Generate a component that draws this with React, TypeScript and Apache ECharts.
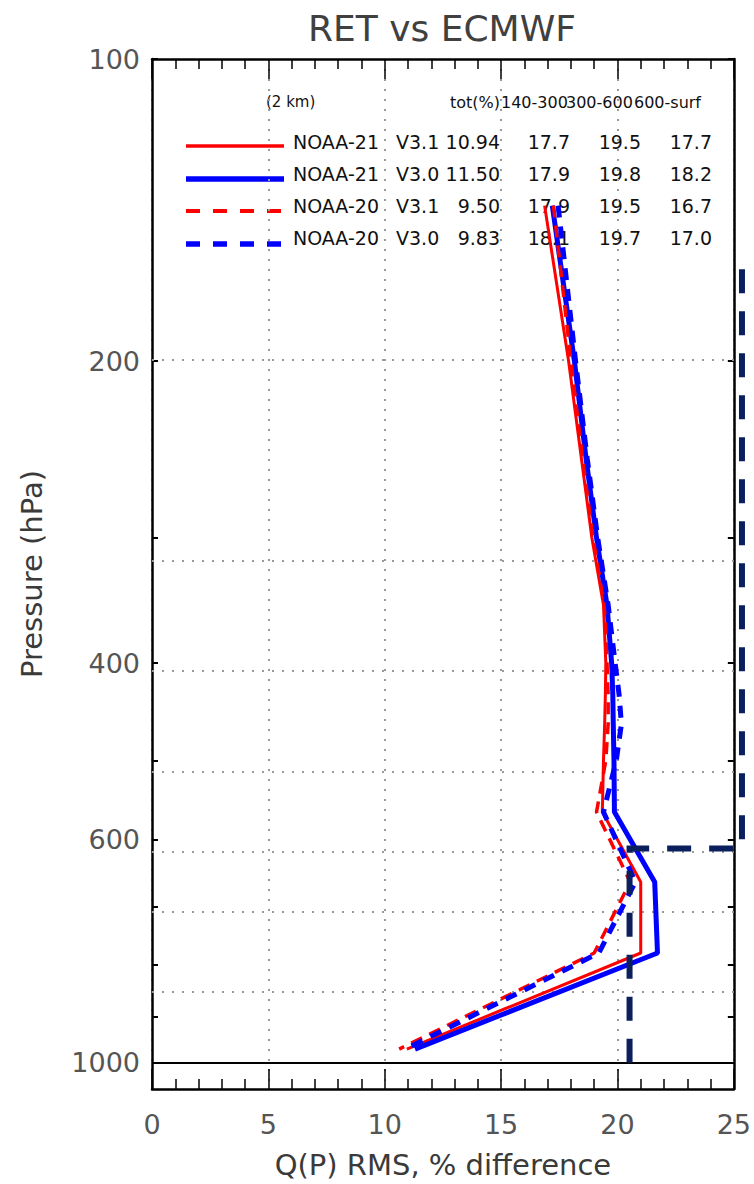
import React, { useEffect, useRef } from "react";
import * as echarts from "echarts";

// Pressure levels (hPa) shared by the four profiles
const P_LEVELS = [140, 200, 250, 300, 350, 400, 430, 460, 500, 563, 661, 778, 970];

// Q(P) RMS % difference per level
const N21_V31 = [16.87, 17.9, 18.45, 18.9, 19.4, 19.5, 19.48, 19.45, 19.4, 19.35, 21.0, 21.0, 10.95];
const N21_V30 = [17.2, 18.15, 18.65, 19.1, 19.55, 19.75, 19.8, 19.82, 19.85, 19.87, 21.6, 21.72, 11.3];
const N20_V31 = [17.25, 18.0, 18.5, 18.95, 19.45, 19.55, 19.6, 19.6, 19.5, 19.1, 20.55, 19.0, 10.62];
const N20_V30 = [17.45, 18.2, 18.7, 19.15, 19.6, 19.9, 20.07, 20.17, 19.95, 19.4, 20.77, 19.2, 10.88];

// Highlight bracket (x, pressure)
const BRACKET_X = [25.35, 25.35, 20.52, 20.52];
const BRACKET_P = [162, 612, 612, 1011];

// Axis ticks / labels
const X_MIN = 0;
const X_MAX = 25;
const X_INTERVAL = 5;
const P_TOP = 100;
const P_BOTTOM = 1063;
const P_TICKS = [100, 200, 300, 400, 500, 600, 700, 800, 900, 1000];
const P_LABELS = [100, 200, 400, 600, 1000];
const P_GRID = [200, 314, 407, 516, 618, 709, 854];
const P_SURFACE_LINE = 1000;

// Legend table
const TABLE_HEADERS = ["(2 km)", "tot(%)", "140-300", "300-600", "600-surf"];
const SAT_NAMES = ["NOAA-21", "NOAA-21", "NOAA-20", "NOAA-20"];
const VERSIONS = ["V3.1", "V3.0", "V3.1", "V3.0"];
const TOT_PCT = ["10.94", "11.50", "9.50", "9.83"];
const R_140_300 = ["17.7", "17.9", "17.9", "18.1"];
const R_300_600 = ["19.5", "19.8", "19.5", "19.7"];
const R_600_SURF = ["17.7", "18.2", "16.7", "17.0"];

const RED = "#ff0000";
const BLUE = "#0000ff";
const NAVY = "#0b1f5c";
const FONT = "'DejaVu Sans', sans-serif";

const lg = (p: number) => Math.log10(p);
const toPts = (xs: number[]) => xs.map((x, i) => [x, lg(P_LEVELS[i])]);

export default function App() {
  const ref = useRef<HTMLDivElement>(null);

  useEffect(() => {
    if (!ref.current) return;
    const chart = echarts.init(ref.current, null, { renderer: "svg" });

    const seriesStyles = [
      { data: N21_V31, color: RED, width: 3, type: "solid" as any },
      { data: N21_V30, color: BLUE, width: 5, type: "solid" as any },
      { data: N20_V31, color: RED, width: 3.5, type: [12, 8] as any },
      { data: N20_V30, color: BLUE, width: 5, type: [12, 9] as any },
    ];

    const legendLineY = [146, 179, 211, 244];
    const rowY = [142, 174, 206, 238];
    const textStyle = (text: string, x: number, y: number, align: string, size: number) => ({
      type: "text",
      x,
      y,
      silent: true,
      style: {
        text,
        fontSize: size,
        fontFamily: FONT,
        fill: "#111",
        align,
        verticalAlign: "middle",
      },
    });

    const graphics: any[] = [
      {
        type: "text",
        x: 442,
        y: 28,
        style: {
          text: "RET vs ECMWF",
          fontSize: 36,
          fontFamily: FONT,
          fill: "#404040",
          align: "center",
          verticalAlign: "middle",
        },
      },
      textStyle(TABLE_HEADERS[0], 266, 102, "left", 15),
      textStyle(TABLE_HEADERS[1], 500, 102, "right", 16),
      textStyle(TABLE_HEADERS[2], 501, 102, "left", 16),
      textStyle(TABLE_HEADERS[3], 566, 102, "left", 16),
      textStyle(TABLE_HEADERS[4], 634, 102, "left", 16),
    ];
    seriesStyles.forEach((s, i) => {
      graphics.push({
        type: "line",
        silent: true,
        shape: { x1: 186, y1: legendLineY[i], x2: 284, y2: legendLineY[i] },
        style: {
          stroke: s.color,
          lineWidth: s.width + 0.5,
          lineDash: s.type === "solid" ? null : [14, 13],
        },
      });
      graphics.push(textStyle(SAT_NAMES[i], 293, rowY[i], "left", 19));
      graphics.push(textStyle(VERSIONS[i], 396, rowY[i], "left", 19));
      graphics.push(textStyle(TOT_PCT[i], 500, rowY[i], "right", 19));
      graphics.push(textStyle(R_140_300[i], 570, rowY[i], "right", 19));
      graphics.push(textStyle(R_300_600[i], 641, rowY[i], "right", 19));
      graphics.push(textStyle(R_600_SURF[i], 712, rowY[i], "right", 19));
    });

    const gridLineStyle = { type: [2, 8], color: "#9a9a9a", width: 2 };

    const xAxisCommon = {
      type: "value",
      min: X_MIN,
      max: X_MAX,
      interval: X_INTERVAL,
      axisLine: { show: true, onZero: false, lineStyle: { color: "#000", width: 2.5 } },
      axisTick: { show: true, inside: true, length: 20, lineStyle: { color: "#000", width: 1.5 } },
      minorTick: { show: true, splitNumber: 5, length: 10, lineStyle: { color: "#000", width: 1.5 } },
    };

    const yAxisCommon = {
      type: "value",
      min: lg(P_TOP),
      max: lg(P_BOTTOM),
      inverse: true,
      axisLine: { show: true, onZero: false, lineStyle: { color: "#000", width: 2.5 } },
      axisTick: {
        show: true,
        inside: true,
        length: 6,
        customValues: P_TICKS.map(lg),
        lineStyle: { color: "#000", width: 2 },
      },
      splitLine: { show: false },
    };

    chart.setOption({
      animation: false,
      backgroundColor: "#fff",
      graphic: graphics,
      grid: { left: 152, right: 17, top: 59, bottom: 89, containLabel: false },
      xAxis: [
        {
          ...xAxisCommon,
          position: "bottom",
          name: "Q(P) RMS, % difference",
          nameLocation: "middle",
          nameGap: 61,
          nameTextStyle: { fontSize: 29, fontFamily: FONT, color: "#3a3a3a" },
          axisLabel: { fontSize: 27, fontFamily: FONT, color: "#555", margin: 22 },
          splitLine: { show: true, lineStyle: gridLineStyle },
        },
        {
          ...xAxisCommon,
          position: "top",
          axisLabel: { show: false },
          splitLine: { show: false },
        },
      ],
      yAxis: [
        {
          ...yAxisCommon,
          position: "left",
          name: "Pressure (hPa)",
          nameLocation: "middle",
          nameRotate: 90,
          nameGap: 106,
          nameTextStyle: { fontSize: 29, fontFamily: FONT, color: "#3a3a3a" },
          axisLabel: {
            show: true,
            customValues: P_LABELS.map(lg),
            formatter: (v: number) => String(Math.round(Math.pow(10, v))),
            fontSize: 27,
            fontFamily: FONT,
            color: "#555",
            margin: 12,
          },
        },
        {
          ...yAxisCommon,
          position: "right",
          axisLabel: { show: false },
        },
      ],
      series: [
        ...seriesStyles.map((s, i) => ({
          type: "line",
          name: `${SAT_NAMES[i]} ${VERSIONS[i]}`,
          xAxisIndex: 0,
          yAxisIndex: 0,
          data: toPts(s.data),
          showSymbol: false,
          symbol: "none",
          lineStyle: { color: s.color, width: s.width, type: s.type },
          z: 3 + i,
          markLine:
            i === 0
              ? {
                  silent: true,
                  symbol: ["none", "none"],
                  label: { show: false },
                  lineStyle: gridLineStyle,
                  data: [
                    ...P_GRID.map((p) => ({ yAxis: lg(p) })),
                    { yAxis: lg(P_SURFACE_LINE), lineStyle: { type: "solid", color: "#000", width: 2 } },
                  ],
                  z: 1,
                }
              : undefined,
        })),
        {
          type: "custom",
          name: "bracket",
          xAxisIndex: 0,
          yAxisIndex: 0,
          clip: false,
          silent: true,
          z: 8,
          data: [[BRACKET_X[0], lg(BRACKET_P[0])]],
          renderItem: (_params: any, api: any) => ({
            type: "polyline",
            shape: {
              points: BRACKET_X.map((x, i) => api.coord([x, lg(BRACKET_P[i])])),
            },
            style: {
              stroke: NAVY,
              lineWidth: 6,
              lineDash: [24, 18],
              fill: null,
            },
          }),
        },
      ],
    });

    return () => chart.dispose();
  }, []);

  return (
    <div
      ref={ref}
      style={{ position: "fixed", left: 0, top: 0, width: 754, height: 1184, background: "#fff" }}
    />
  );
}
